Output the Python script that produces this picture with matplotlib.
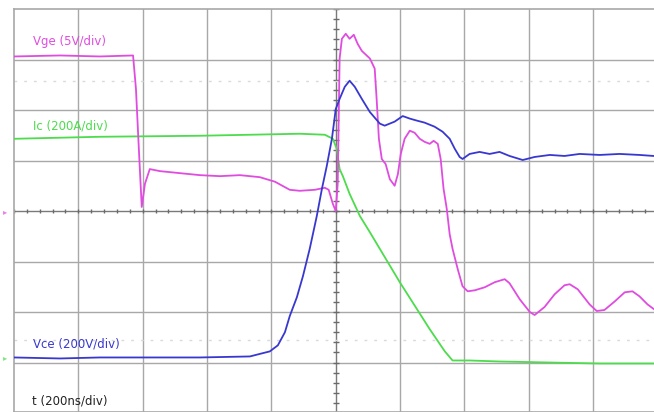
import matplotlib
matplotlib.use("Agg")
import matplotlib.pyplot as plt
import numpy as np

# time in ns (200 ns/div, 0 at screen centre); levels in screen divisions
vge_t = [-1000, -857, -733, -630, -621, -612, -603, -593, -578, -547, -485, -422, -360, -298, -236,
         -189, -143, -112, -65, -34, -22, -9, 0, 6, 12, 19, 31, 43, 56, 68, 81, 106, 121, 127, 134,
         143, 155, 168, 183, 193, 202, 214, 230, 245, 261, 276, 292, 304, 317, 326, 335, 345, 354,
         363, 379, 394, 410, 432, 463, 494, 525, 540, 572, 603, 618, 649, 680, 711, 727, 752, 789,
         811, 835, 867, 898, 922, 944, 969, 988]
vge_v = [3.06, 3.08, 3.06, 3.08, 2.42, 1.23, 0.08, 0.54, 0.83, 0.79, 0.75, 0.71, 0.69, 0.71, 0.67,
         0.58, 0.42, 0.40, 0.42, 0.46, 0.42, 0.14, 0.0, 0.54, 3.02, 3.41, 3.51, 3.41, 3.49, 3.31, 3.17,
         3.02, 2.82, 2.22, 1.43, 1.03, 0.93, 0.63, 0.50, 0.73, 1.13, 1.43, 1.59, 1.55, 1.43, 1.37,
         1.33, 1.39, 1.33, 1.03, 0.44, 0.04, -0.46, -0.75, -1.15, -1.49, -1.59, -1.57, -1.51, -1.41,
         -1.35, -1.43, -1.75, -2.00, -2.06, -1.90, -1.65, -1.47, -1.45, -1.55, -1.85, -1.98, -1.96,
         -1.79, -1.61, -1.59, -1.69, -1.85, -1.94]

ic_t = [-1000, -733, -422, -112, -34, -9, 3, 12, 22, 43, 75, 106, 152, 199, 245, 292, 339, 363,
        416, 509, 665, 820, 988]
ic_v = [1.43, 1.47, 1.49, 1.53, 1.51, 1.43, 1.23, 0.83, 0.69, 0.34, -0.10, -0.42, -0.91, -1.41,
        -1.87, -2.34, -2.78, -2.96, -2.96, -2.98, -3.00, -3.02, -3.02]

vce_t = [-1000, -857, -733, -578, -422, -267, -230, -205, -180, -158, -143, -121, -102, -81, -59,
         -43, -28, -12, 0, 12, 28, 43, 59, 81, 106, 137, 152, 183, 208, 230, 252, 276, 307, 332,
         354, 370, 385, 394, 416, 447, 478, 509, 540, 581, 618, 665, 711, 758, 820, 882, 944, 988]
vce_v = [-2.90, -2.92, -2.90, -2.90, -2.90, -2.88, -2.82, -2.78, -2.66, -2.40, -2.08, -1.71, -1.29,
         -0.75, -0.10, 0.44, 0.89, 1.43, 2.02, 2.22, 2.46, 2.58, 2.46, 2.22, 1.96, 1.73, 1.69, 1.77,
         1.88, 1.83, 1.79, 1.75, 1.67, 1.57, 1.43, 1.23, 1.07, 1.03, 1.13, 1.17, 1.13, 1.17, 1.09,
         1.01, 1.07, 1.11, 1.09, 1.13, 1.11, 1.13, 1.11, 1.09]

labels = ["Vge (5V/div)", "Ic (200A/div)", "Vce (200V/div)", "t (200ns/div)"]

C_VGE = "#e04ce0"
C_IC = "#4cdc4c"
C_VCE = "#3838d0"
GRID = "#a8a8a8"
CENTER = "#7a7a7a"

W, H = 654, 412
fig = plt.figure(figsize=(W / 100, H / 100), dpi=100)
left_px, top_px = 14, 9
ax = fig.add_axes([left_px / W, 0, (W - left_px) / W, (H - top_px) / H])
ax.set_xlim(-1000, 989)
ax.set_ylim(-3.98, 4.0)

for x in np.arange(-1000, 1000, 200):
    if x != 0 and x != -1000:
        ax.axvline(x, color=GRID, lw=1.0, zorder=1)
for y in np.arange(-3, 4, 1):
    if y != 0:
        ax.axhline(y, color=GRID, lw=1.0, zorder=1)
ax.axhline(0, color=CENTER, lw=1.0, zorder=1)
ax.axvline(0, color=CENTER, lw=1.0, zorder=1)
# minor ticks on centre lines
tx = np.arange(-1000, 1000, 40)
ax.plot(tx, np.zeros_like(tx), ls="none", marker="|", ms=3, mew=1.0, color="#6a6a6a", zorder=1)
ty = np.arange(-4, 4.01, 0.2)
ax.plot(np.zeros_like(ty), ty, ls="none", marker="_", ms=4, mew=1.0, color="#6a6a6a", zorder=1)
# faint dotted marker lines
for y in (2.57, -2.55):
    ax.axhline(y, color="#dadada", lw=1.0, ls=(0, (2, 5)), zorder=1)

ax.plot(ic_t, ic_v, color=C_IC, lw=1.3, zorder=3)
ax.plot(vge_t, vge_v, color=C_VGE, lw=1.3, zorder=4)
ax.plot(vce_t, vce_v, color=C_VCE, lw=1.3, zorder=5)

for s in ("top", "left", "bottom"):
    ax.spines[s].set_color(GRID)
    ax.spines[s].set_linewidth(1.2)
ax.spines["right"].set_visible(False)
ax.set_xticks([])
ax.set_yticks([])

fs = 8.5
ax.text(-940, 3.36, labels[0], color=C_VGE, fontsize=fs, va="center", ha="left")
ax.text(-940, 1.69, labels[1], color=C_IC, fontsize=fs, va="center", ha="left")
ax.text(-940, -2.63, labels[2], color=C_VCE, fontsize=fs, va="center", ha="left")
ax.text(-945, -3.76, labels[3], color="#222222", fontsize=fs, va="center", ha="left")

# channel markers on the left edge
fig.text(5 / W, 1 - 212 / H, "\u25B8", color=C_VGE, fontsize=6, va="center", ha="center", alpha=0.7)
fig.text(5 / W, 1 - 358 / H, "\u25B8", color=C_IC, fontsize=6, va="center", ha="center", alpha=0.7)

fig.savefig("out.png", dpi=100)
